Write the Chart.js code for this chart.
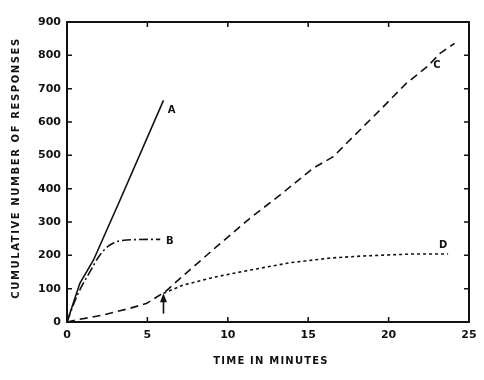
<!DOCTYPE html>
<html>
<head>
<meta charset="utf-8">
<script src="https://cdn.jsdelivr.net/npm/chart.js@4/dist/chart.umd.min.js"></script>
<style>
html,body{margin:0;padding:0;background:#fff;}
canvas{display:block;}
</style>
</head>
<body>
<canvas id="c" width="484" height="380"></canvas>
<script>
// ---- data ----
const xTitle = "TIME IN MINUTES";
const yTitle = "CUMULATIVE NUMBER OF RESPONSES";
const xTicks = [0, 5, 10, 15, 20, 25];
const yTicks = [0, 100, 200, 300, 400, 500, 600, 700, 800, 900];

const timeA = [0, 0.8, 1.65, 3.3, 6.0];
const valA  = [0, 116, 186, 366, 665];

const timeB = [0, 0.6, 1.43, 2.05, 2.67, 3.7, 5.8];
const valB  = [0, 76, 151, 201, 231, 246, 248];

const timeC = [0, 0.8, 2.26, 3.9, 4.96, 5.78, 6.0, 7.2, 9.3, 11.4, 13.3, 15.3, 16.56, 17.8, 19.47, 21.1, 22.4, 23.2, 24.1];
const valC  = [0, 8, 21, 41, 56, 81, 86, 138, 226, 312, 383, 461, 496, 556, 636, 716, 766, 806, 836];

const timeD = [6.0, 7.23, 9.3, 11.4, 13.9, 16.4, 18.4, 21.5, 23.7];
const valD  = [86, 111, 136, 156, 178, 192, 198, 204, 204];

const curveLabels = ["A", "B", "C", "D"];
const labelX = [6.5, 6.4, 23.0, 23.4];
const labelY = [636, 243, 771, 231];

const arrowX = 6.0;
const arrowFrom = 25;
const arrowTo = 86;

function pts(xs, ys){ return xs.map((x,i)=>({x:x, y:ys[i]})); }

const ink = "#111";

const framePlugin = {
  id: "frame",
  afterDatasetsDraw(chart){
    const ctx = chart.ctx, a = chart.chartArea;
    const xs = chart.scales.x, ys = chart.scales.y;
    ctx.save();
    ctx.strokeStyle = ink;
    ctx.lineWidth = 2;
    ctx.strokeRect(a.left, a.top, a.right - a.left, a.bottom - a.top);
    ctx.lineWidth = 1.5;
    const tl = 5;
    ctx.beginPath();
    xTicks.forEach(v=>{
      if (v===xTicks[0] || v===xTicks[xTicks.length-1]) return;
      const px = xs.getPixelForValue(v);
      ctx.moveTo(px, a.bottom); ctx.lineTo(px, a.bottom - tl);
      ctx.moveTo(px, a.top); ctx.lineTo(px, a.top + tl);
    });
    yTicks.forEach(v=>{
      if (v===yTicks[0] || v===yTicks[yTicks.length-1]) return;
      const py = ys.getPixelForValue(v);
      ctx.moveTo(a.left, py); ctx.lineTo(a.left + tl, py);
      ctx.moveTo(a.right, py); ctx.lineTo(a.right - tl, py);
    });
    ctx.stroke();

    // arrow
    const ax = xs.getPixelForValue(arrowX);
    const ay0 = ys.getPixelForValue(arrowFrom);
    const ay1 = ys.getPixelForValue(arrowTo);
    ctx.lineWidth = 1.6;
    ctx.beginPath(); ctx.moveTo(ax, ay0); ctx.lineTo(ax, ay1 + 4); ctx.stroke();
    ctx.fillStyle = ink;
    ctx.beginPath(); ctx.moveTo(ax, ay1); ctx.lineTo(ax - 3.5, ay1 + 9); ctx.lineTo(ax + 3.5, ay1 + 9); ctx.closePath(); ctx.fill();

    // curve labels
    ctx.font = "bold 10px 'DejaVu Sans'";
    ctx.textAlign = "center"; ctx.textBaseline = "middle";
    curveLabels.forEach((t,i)=>{
      ctx.fillText(t, xs.getPixelForValue(labelX[i]), ys.getPixelForValue(labelY[i]));
    });

    // axis titles with letter spacing
    ctx.font = "bold 10px 'DejaVu Sans'";
    ctx.letterSpacing = "1.2px";
    ctx.textAlign = "center"; ctx.textBaseline = "middle";
    ctx.fillText(xTitle, (a.left + a.right)/2 + 3, 361);
    ctx.save();
    ctx.translate(16, (a.top + a.bottom)/2 - 4);
    ctx.rotate(-Math.PI/2);
    ctx.letterSpacing = "1.6px";
    ctx.fillText(yTitle, 0, 0);
    ctx.restore();
    ctx.restore();
  }
};

const common = {fill:false, borderColor:ink, borderWidth:1.6, pointRadius:0, tension:0};

new Chart(document.getElementById("c"), {
  type: "scatter",
  data: {
    datasets: [
      Object.assign({label:"A", data:pts(timeA,valA), showLine:true}, common),
      Object.assign({label:"B", data:pts(timeB,valB), showLine:true, borderDash:[9,3,2,3], cubicInterpolationMode:"monotone"}, common),
      Object.assign({label:"C", data:pts(timeC,valC), showLine:true, borderDash:[8,5]}, common),
      Object.assign({label:"D", data:pts(timeD,valD), showLine:true, borderDash:[3,3]}, common)
    ]
  },
  options: {
    responsive: false,
    animation: false,
    layout: {padding: {left:0, right:15, top:22, bottom:0}},
    plugins: {legend:{display:false}, tooltip:{enabled:false}},
    scales: {
      x: {
        type: "linear", min: 0, max: 25,
        afterBuildTicks(s){ s.ticks = xTicks.map(v=>({value:v})); },
        afterFit(s){ s.height = 58; },
        grid: {display:false, drawTicks:false},
        border: {display:false},
        ticks: {color:ink, font:{family:"DejaVu Sans", size:11, weight:"bold"}, padding:7, maxRotation:0}
      },
      y: {
        min: 0, max: 900,
        afterBuildTicks(s){ s.ticks = yTicks.map(v=>({value:v})); },
        afterFit(s){ s.width = 67; },
        grid: {display:false, drawTicks:false},
        border: {display:false},
        ticks: {color:ink, font:{family:"DejaVu Sans", size:11, weight:"bold"}, padding:6}
      }
    }
  },
  plugins: [framePlugin]
});
</script>
</body>
</html>
